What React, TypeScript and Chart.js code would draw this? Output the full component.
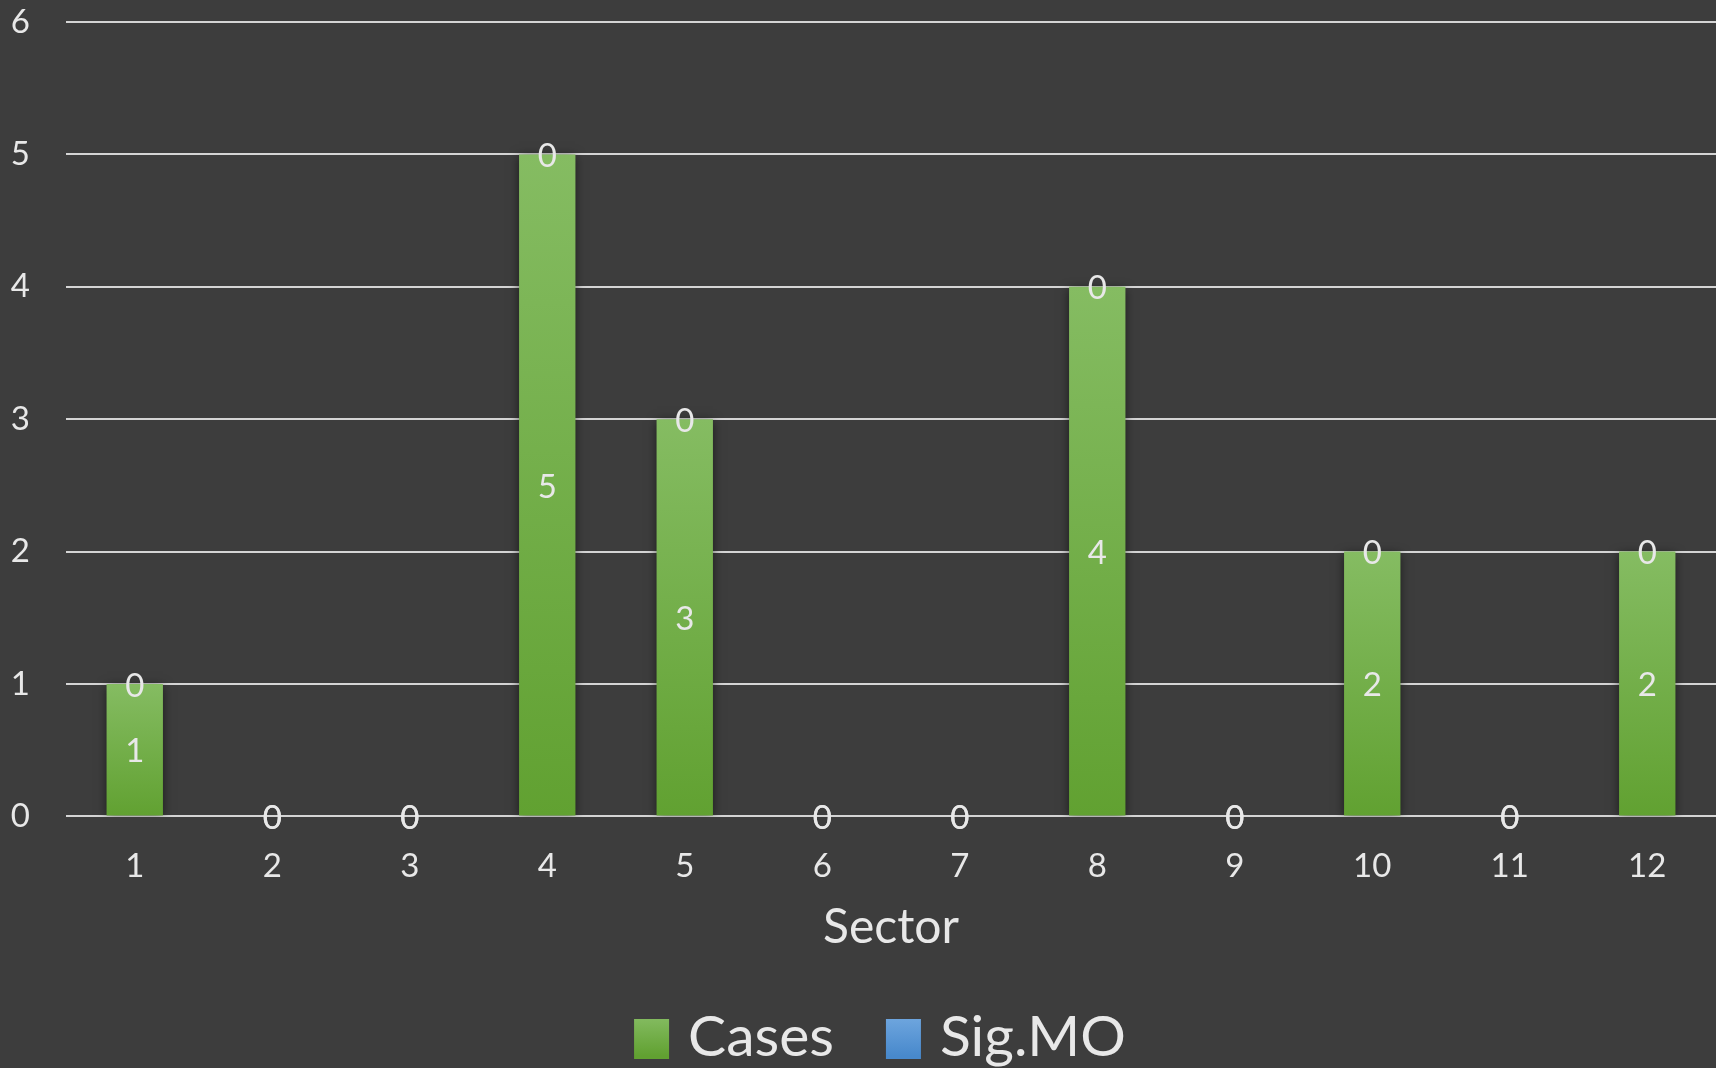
import React, { useEffect, useRef } from "react";
import { Chart, registerables } from "chart.js";

Chart.register(...registerables);

const categories = ["1", "2", "3", "4", "5", "6", "7", "8", "9", "10", "11", "12"];
const casesValues = [1, 0, 0, 5, 3, 0, 0, 4, 0, 2, 0, 2];
const sigMoValues = [0, 0, 0, 0, 0, 0, 0, 0, 0, 0, 0, 0];
const yTicks = [0, 1, 2, 3, 4, 5, 6];
const seriesNames = ["Cases", "Sig.MO"];

const BG = "#3d3d3d";
const TEXT = "#e8e8e8";
const FONT = "Lato, 'Noto Sans', sans-serif";
const SERIES_COLORS = [
  { top: "#85bc62", bottom: "#61a131", solid: "#72ae48" },
  { top: "#70a7df", bottom: "#4889cc", solid: "#5b9bd5" },
];

function barGradient(top: string, bottom: string, solid: string) {
  return (ctx: any) => {
    const chart = ctx.chart;
    if (ctx.type !== "data" || !chart.chartArea || !chart.scales.y) return solid;
    const y = chart.scales.y;
    const ds = chart.data.datasets;
    let start = 0;
    for (let i = 0; i < ctx.datasetIndex; i++) start += Number(ds[i].data[ctx.dataIndex]) || 0;
    const end = start + (Number(ctx.raw) || 0);
    const y0 = y.getPixelForValue(end);
    const y1 = y.getPixelForValue(start);
    if (!isFinite(y0) || !isFinite(y1) || Math.abs(y1 - y0) < 1) return solid;
    const g = chart.ctx.createLinearGradient(0, y0, 0, y1);
    g.addColorStop(0, top);
    g.addColorStop(1, bottom);
    return g;
  };
}

const shadowPlugin = {
  id: "barShadow",
  beforeDatasetsDraw(chart: any) {
    const c = chart.ctx;
    c.save();
    c.shadowColor = "rgba(0,0,0,0.55)";
    c.shadowBlur = 10;
    c.shadowOffsetX = 0;
    c.shadowOffsetY = 2;
  },
  afterDatasetsDraw(chart: any) {
    chart.ctx.restore();
  },
};

const labelPlugin = {
  id: "valueLabels",
  afterDatasetsDraw(chart: any) {
    const c = chart.ctx;
    c.save();
    c.fillStyle = TEXT;
    c.font = `33px ${FONT}`;
    c.textAlign = "center";
    c.textBaseline = "middle";
    chart.data.datasets.forEach((ds: any, di: number) => {
      const meta = chart.getDatasetMeta(di);
      meta.data.forEach((el: any, i: number) => {
        const v = ds.data[i];
        const y = di === 0 ? (el.y + el.base) / 2 : el.y;
        c.fillText(String(v), el.x, y + 2);
      });
    });
    c.restore();
  },
};

const legendPlugin = {
  id: "customLegend",
  afterDraw(chart: any) {
    const c = chart.ctx;
    const fontSize = 57;
    const boxW = 35;
    const boxH = 40;
    const gapBoxText = 19;
    const gapItems = 52;
    c.save();
    c.font = `${fontSize}px ${FONT}`;
    c.textBaseline = "middle";
    c.textAlign = "left";
    const widths = seriesNames.map((n) => c.measureText(n).width);
    const total = widths.reduce((a, w) => a + boxW + gapBoxText + w, 0) + gapItems * (seriesNames.length - 1);
    const area = chart.chartArea;
    let x = (area.left + area.right) / 2 - 11 - total / 2;
    const cy = chart.height - 32;
    seriesNames.forEach((name, i) => {
      const col = SERIES_COLORS[i];
      const g = c.createLinearGradient(0, cy - boxH / 2, 0, cy + boxH / 2);
      g.addColorStop(0, col.top);
      g.addColorStop(1, col.bottom);
      c.fillStyle = g;
      c.fillRect(x, cy - boxH / 2 + 3, boxW, boxH);
      x += boxW + gapBoxText;
      c.fillStyle = TEXT;
      c.fillText(name, x, cy + 2);
      x += widths[i] + gapItems;
    });
    c.restore();
  },
};

export default function App() {
  const ref = useRef<HTMLCanvasElement | null>(null);

  useEffect(() => {
    document.body.style.margin = "0";
    document.body.style.background = BG;
    const canvas = ref.current;
    if (!canvas) return;
    const chart = new Chart(canvas, {
      type: "bar",
      data: {
        labels: categories,
        datasets: [
          {
            label: seriesNames[0],
            data: casesValues,
            backgroundColor: barGradient(SERIES_COLORS[0].top, SERIES_COLORS[0].bottom, SERIES_COLORS[0].solid),
            borderWidth: 0,
            stack: "s",
          },
          {
            label: seriesNames[1],
            data: sigMoValues,
            backgroundColor: barGradient(SERIES_COLORS[1].top, SERIES_COLORS[1].bottom, SERIES_COLORS[1].solid),
            borderWidth: 0,
            stack: "s",
          },
        ],
      },
      options: {
        animation: false,
        responsive: false,
        maintainAspectRatio: false,
        devicePixelRatio: 1,
        layout: { padding: { top: 22, left: 0, right: 0, bottom: 0 } },
        datasets: {
          bar: { categoryPercentage: 1, barPercentage: 0.41 },
        },
        scales: {
          x: {
            stacked: true,
            grid: { display: false, drawTicks: false },
            border: { display: false },
            ticks: { color: TEXT, font: { family: FONT, size: 33 }, padding: 30 },
            title: {
              display: true,
              text: "Sector",
              color: TEXT,
              font: { family: FONT, size: 48, lineHeight: 1 },
              padding: { top: -12, bottom: 116 },
            },
          },
          y: {
            stacked: true,
            min: 0,
            max: 6,
            afterBuildTicks: (s: any) => {
              s.ticks = yTicks.map((v) => ({ value: v }));
            },
            afterFit: (s: any) => {
              s.width = 66;
              s.paddingTop = 0;
              s.paddingBottom = 0;
            },
            grid: { color: "#d4d4d4", lineWidth: 2, drawTicks: false },
            border: { display: false },
            ticks: { color: TEXT, font: { family: FONT, size: 33 }, padding: 36 },
          },
        },
        plugins: {
          legend: { display: false },
          tooltip: { enabled: false },
        },
      },
      plugins: [shadowPlugin, labelPlugin, legendPlugin],
    });
    return () => chart.destroy();
  }, []);

  return (
    <div style={{ position: "absolute", left: 0, top: 0, width: 1716, height: 1068, background: BG }}>
      <canvas ref={ref} width={1716} height={1068} style={{ width: 1716, height: 1068, display: "block" }} />
    </div>
  );
}
